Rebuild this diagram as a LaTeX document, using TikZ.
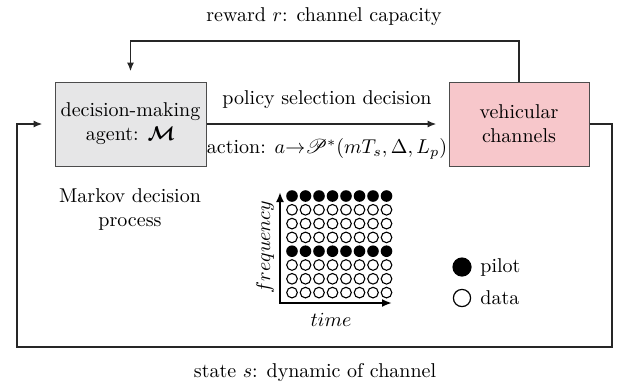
\documentclass[tikz,border=0pt]{standalone}
\usepackage{amsmath,amssymb,bm}
\usepackage{mathrsfs}
\usetikzlibrary{arrows.meta}
\definecolor{agentgray}{HTML}{E6E6E7}
\definecolor{chanpink}{HTML}{F7C7CB}
\begin{document}
\begin{tikzpicture}[x=0.5pt,y=-0.5pt,
  blockbox/.style={draw=black!70,line width=0.5pt,minimum height=42pt,align=center,inner sep=0pt},
  conn/.style={line width=0.9pt,draw=black!85,-{Latex[length=4.5pt,width=3.6pt]}},
  axisline/.style={line width=1.4pt,{Latex[length=5pt,width=4pt]}-{Latex[length=5pt,width=4pt]},line join=miter},
  lbl/.style={inner sep=0pt},
  pilotdot/.style={fill=black},
  datadot/.style={draw=black,line width=0.6pt,fill=white}]
\useasboundingbox (0,0) rectangle (621,387);
\node[blockbox,fill=agentgray,minimum width=75.5pt] (ag) at (130.5,124) {decision-making\\agent: $\bm{\mathcal{M}}$};
\node[blockbox,fill=chanpink,minimum width=70pt] (vc) at (519,124) {vehicular\\channels};
\coordinate (top) at (0,41);
\coordinate (rr) at (612,347);
\coordinate (ll) at (17,347);
% reward loop
\draw[conn,shorten >=5pt] (vc.north) |- (ag.north |- top) -- (ag.north);
% action
\draw[conn,shorten >=6pt] (ag.east) -- (vc.west);
% state loop
\draw[conn,shorten >=6pt] (vc.east) -| (rr) -- (ll) |- (ag.west);
% labels
\node[lbl] (rw) at (324,17) {reward $r$: channel capacity};
\node[lbl] (ps) at (327,100) {policy selection decision};
\node[lbl] (ac) at (327,149) {action: $a{\to}\mathscr{P}^{*}(mT_s,\Delta,L_p)$};
\node[lbl] (st) at (315,372) {state $s$: dynamic of channel};
\node[lbl,align=center] (mdp) at (130,209) {Markov decision\\process};
% time-frequency grid
\draw[axisline] (280,192) -- (280,303) -- (392,303);
\foreach \j in {0,4}{\foreach \i in {0,...,7}{\fill ({292+13.5*\i},{196+13.8*\j}) circle[radius=2.9pt];}}
\foreach \j in {1,2,3,5,6,7}{\foreach \i in {0,...,7}{\draw[line width=0.55pt] ({292+13.5*\i},{196+13.8*\j}) circle[radius=2.65pt];}}
\node[lbl,rotate=90] (fq) at (265,247) {$frequency$};
\node[lbl] (tm) at (331,320) {$time$};
% legend
\fill[pilotdot] (462,267) circle[radius=4.8pt];
\draw[datadot] (462,298) circle[radius=4.3pt];
\node[lbl,anchor=west] (pl) at (480,267) {pilot};
\node[lbl,anchor=west] (dt) at (480,298) {data};
\end{tikzpicture}
\end{document}
